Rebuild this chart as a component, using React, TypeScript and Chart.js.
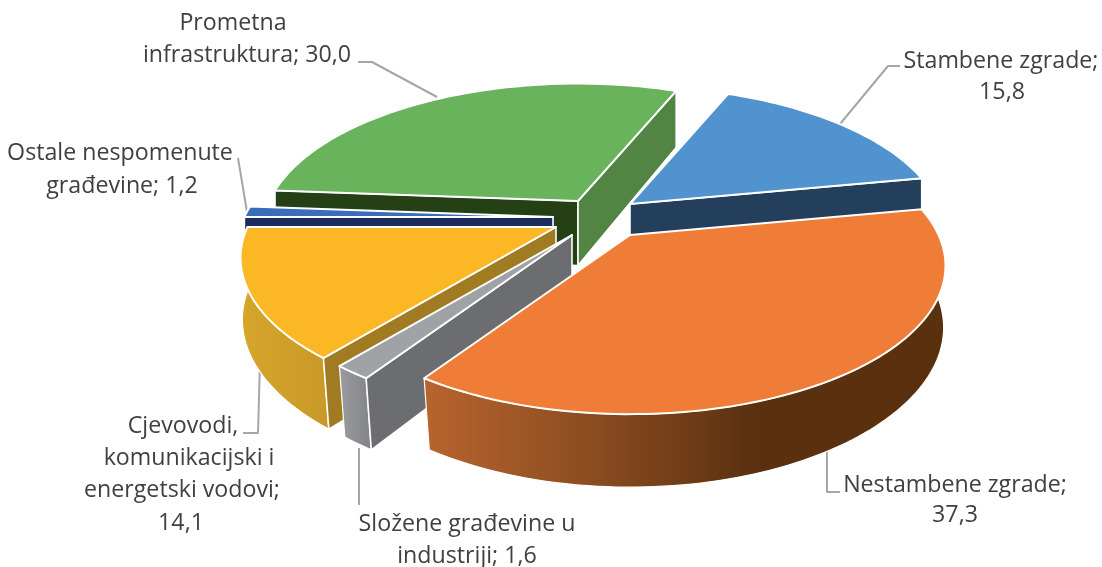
import React, { useEffect, useRef } from "react";
import { Chart, registerables } from "chart.js";

Chart.register(...registerables);

// ---- data (clockwise from the first slice) ----
const CATEGORIES = [
  "Stambene zgrade",
  "Nestambene zgrade",
  "Složene građevine u industriji",
  "Cjevovodi, komunikacijski i energetski vodovi",
  "Ostale nespomenute građevine",
  "Prometna infrastruktura",
];
const VALUES = [15.8, 37.3, 1.6, 14.1, 1.2, 30.0];
const TOP_COLORS = ["#5193CF", "#EF7D37", "#A0A3A6", "#FBB824", "#3B6CB7", "#68B35B"];

// ---- presentation ----
const FIRST_SLICE_ANGLE = 22.3;
const DRAW_ORDER = [5, 0, 4, 3, 2, 1];
const EXPLODE = [
  [40, -11],
  [40, 20],
  [-18, 20],
  [-34, 12],
  [-37, 2],
  [-12, -14],
];
const START_FACE = [null, null, "#6B6D70", "#A07B22", "#1B2B5C", "#264015"];
const END_FACE = ["#243F5C", null, null, null, null, "#528444"];
const WALL_STOPS: [number, string][][] = [
  [[0, "#243F5C"], [1, "#243F5C"]],
  [[0, "#B8642D"], [0.3, "#8E4E22"], [0.64, "#5A300F"], [1, "#5A300F"]],
  [[0, "#9A9C9F"], [1, "#85878A"]],
  [[0, "#D6A52B"], [1, "#C99A28"]],
  [[0, "#1B2B5C"], [1, "#1B2B5C"]],
  [[0, "#264015"], [1, "#264015"]],
];
const RX_RATIO = 1.442;
const RY_RATIO = 0.663;
const PERSPECTIVE = 0.208;
const LABEL_WORDS = [[2, 1], [2, 1], [3, 2], [1, 2, 2, 1], [2, 2], [1, 3]];
const LABEL_POS = [
  [[1001, 60], [1002, 91]],
  [[955, 484], [955, 514]],
  [[467, 523], [467, 555]],
  [[183, 425], [189, 457], [182, 489], [181, 522]],
  [[120, 152], [122, 185]],
  [[233, 22], [247, 54]],
];
const LEADERS = [
  [[900, 66], [888, 66], [840, 124]],
  [[840, 492], [827, 492], [827, 450]],
  [[359, 505], [359, 448]],
  [[243, 433], [258, 433], [260, 362]],
  [[238, 158], [247, 212]],
  [[358, 62], [372, 62], [437, 97]],
];

const fmt = (v: number) => v.toFixed(1).replace(".", ",");

const pie3d = {
  id: "pie3d",
  beforeDatasetsDraw(chart: any) {
    const ctx: CanvasRenderingContext2D = chart.ctx;
    const els = chart.getDatasetMeta(0).data;

    ctx.save();
    ctx.strokeStyle = "#A6A6A6";
    ctx.lineWidth = 2;
    ctx.lineJoin = "round";
    for (const pts of LEADERS) {
      ctx.beginPath();
      pts.forEach(([x, y], i) => (i ? ctx.lineTo(x, y) : ctx.moveTo(x, y)));
      ctx.stroke();
    }
    ctx.restore();

    for (const i of DRAW_ORDER) {
      const el = els[i];
      const ax = el.x + EXPLODE[i][0];
      const ay = el.y + EXPLODE[i][1];
      const rx = el.outerRadius * RX_RATIO;
      const ry = el.outerRadius * RY_RATIO;
      const top = (a: number, r = 1) => {
        const v = Math.sin(a) * r;
        const s = 1 / (1 - PERSPECTIVE * v);
        return [ax + rx * s * Math.cos(a) * r, ay + ry * s * v];
      };
      const bot = (a: number, r = 1) => {
        const [x, y] = top(a, r);
        const v = Math.sin(a) * r;
        const shrink = 1 - 0.03 * Math.max(v, 0);
        return [ax + (x - ax) * shrink, y + 64.5 + 8.5 * v];
      };
      const poly = (pts: number[][], fill: any, lw: number) => {
        ctx.beginPath();
        pts.forEach(([x, y], k) => (k ? ctx.lineTo(x, y) : ctx.moveTo(x, y)));
        ctx.closePath();
        ctx.fillStyle = fill;
        ctx.fill();
        ctx.strokeStyle = "#FFFFFF";
        ctx.lineWidth = lw;
        ctx.lineJoin = "round";
        ctx.stroke();
      };
      const a0 = el.startAngle;
      const a1 = el.endAngle;
      const N = Math.max(4, Math.ceil((a1 - a0) * 40));
      const arcAngles = Array.from({ length: N + 1 }, (_, k) => a0 + ((a1 - a0) * k) / N);

      const face = (a: number, color: string) =>
        poly([top(a, 0), top(a), bot(a), bot(a, 0)], color, 1.6);

      // outer wall
      const wallTop = arcAngles.map((a) => top(a));
      const wallBot = arcAngles.map((a) => bot(a)).reverse();
      const xs = wallTop.map((p) => p[0]);
      const g = ctx.createLinearGradient(Math.min(...xs), 0, Math.max(...xs), 0);
      WALL_STOPS[i].forEach(([o, c]) => g.addColorStop(o, c));
      poly([...wallTop, ...wallBot], g, 1.2);

      if (START_FACE[i]) face(a0, START_FACE[i] as string);
      if (END_FACE[i]) face(a1, END_FACE[i] as string);

      // top surface
      poly([top(a0, 0), ...wallTop], el.options.backgroundColor, 2);
    }
    return false;
  },
  afterDraw(chart: any) {
    const ctx: CanvasRenderingContext2D = chart.ctx;
    ctx.save();
    ctx.font = '23.2px "Open Sans"';
    ctx.fillStyle = "#404040";
    ctx.textAlign = "center";
    ctx.textBaseline = "alphabetic";
    chart.data.labels.forEach((cat: string, i: number) => {
      const words = `${cat}; ${fmt(VALUES[i])}`.split(" ");
      let w = 0;
      LABEL_WORDS[i].forEach((n, li) => {
        const line = words.slice(w, w + n).join(" ");
        w += n;
        const [x, y] = LABEL_POS[i][li];
        ctx.fillText(line, x, y + 8);
      });
    });
    ctx.restore();
  },
};

export default function App() {
  const ref = useRef<HTMLCanvasElement>(null);
  useEffect(() => {
    const chart = new Chart(ref.current!, {
      type: "pie",
      data: {
        labels: CATEGORIES,
        datasets: [
          { data: VALUES, backgroundColor: TOP_COLORS, borderColor: "#FFFFFF", borderWidth: 2 },
        ],
      },
      options: {
        responsive: false,
        animation: false,
        rotation: FIRST_SLICE_ANGLE,
        layout: { padding: { left: 78, right: 0, top: 0, bottom: 137 } },
        plugins: { legend: { display: false }, tooltip: { enabled: false } },
      },
      plugins: [pie3d],
    } as any);
    return () => chart.destroy();
  }, []);
  return (
    <div style={{ position: "absolute", left: 0, top: 0, width: 1102, height: 567, background: "#FFFFFF" }}>
      <canvas ref={ref} width={1102} height={567} style={{ display: "block" }} />
    </div>
  );
}
